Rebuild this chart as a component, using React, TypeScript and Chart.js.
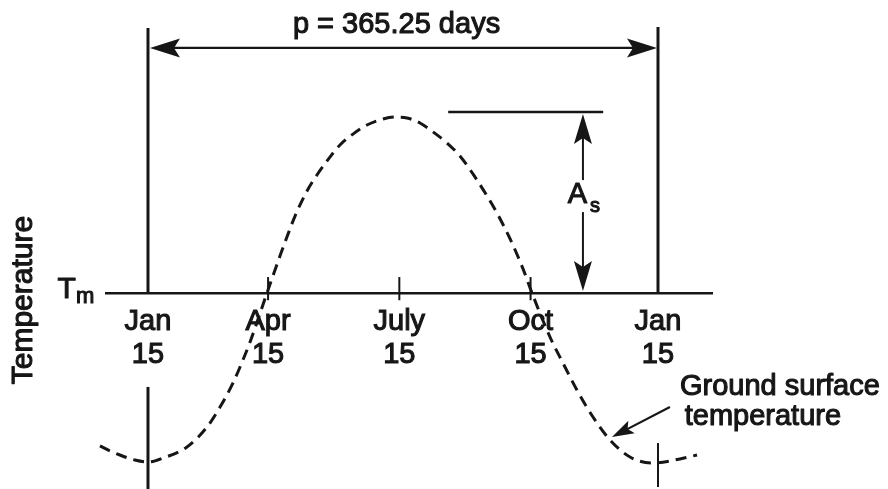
import React, { useEffect, useRef } from 'react';
import Chart from 'chart.js/auto';

// Time axis: days counted from Jan 15
const periodDays = 365.25;
const tickDays = [0, 86, 180, 274, 365.25];
const tickLabels = [
  ['Jan', '15'],
  ['Apr', '15'],
  ['July', '15'],
  ['Oct', '15'],
  ['Jan', '15'],
];

// Temperature as departure from the mean Tm, in units of the surface amplitude As
const meanTemp = 0;
const amplitude = 1;

// Ground surface temperature curve
const curveDays = [
  -43.7, -34.4, -20.1, -9.3, 0, 10.7, 27.9, 42.3, 51.6, 60.9, 68.0, 73.1, 85.2, 90.2,
  94.5, 99.5, 105.3, 113.9, 121.0, 130.3, 137.5, 146.8, 156.8, 168.3, 176.9, 185.5,
  194.8, 204.1, 214.1, 223.4, 234.2, 242.8, 250.7, 260.7, 268.6, 275.0, 287.9, 297.2,
  307.2, 318.7, 330.9, 345.2, 361.7, 381.0, 393.2,
];
const curveTemps = [
  -0.801, -0.845, -0.895, -0.923, -0.934, -0.912, -0.851, -0.74, -0.63, -0.497, -0.37,
  -0.271, 0, 0.11, 0.204, 0.309, 0.425, 0.564, 0.652, 0.751, 0.818, 0.878, 0.928, 0.961,
  0.972, 0.967, 0.939, 0.89, 0.829, 0.757, 0.641, 0.536, 0.431, 0.276, 0.133, 0, -0.243,
  -0.387, -0.536, -0.685, -0.812, -0.906, -0.939, -0.917, -0.895,
];

const INK = '#161616';
const FONT = '"Liberation Sans", Arial, Helvetica, sans-serif';
const TEXT_STROKE = 1.1;

function arrowHead(ctx: CanvasRenderingContext2D, tx: number, ty: number, angle: number, len: number, half: number) {
  ctx.save();
  ctx.translate(tx, ty);
  ctx.rotate(angle);
  ctx.beginPath();
  ctx.moveTo(0, 0);
  ctx.lineTo(-len, -half);
  ctx.lineTo(-len * 0.8, 0);
  ctx.lineTo(-len, half);
  ctx.closePath();
  ctx.fill();
  ctx.restore();
}

function line(ctx: CanvasRenderingContext2D, x1: number, y1: number, x2: number, y2: number, w: number) {
  ctx.lineWidth = w;
  ctx.beginPath();
  ctx.moveTo(x1, y1);
  ctx.lineTo(x2, y2);
  ctx.stroke();
}

function text(ctx: CanvasRenderingContext2D, s: string, x: number, y: number) {
  ctx.lineWidth = TEXT_STROKE;
  ctx.lineJoin = 'round';
  ctx.strokeText(s, x, y);
  ctx.fillText(s, x, y);
}

// Reference lines, arrows and labels drawn in data coordinates
const diagramPlugin = {
  id: 'diagram',
  afterDraw(chart: any) {
    const { ctx } = chart;
    const X = (d: number) => chart.scales.x.getPixelForValue(d);
    const Y = (t: number) => chart.scales.y.getPixelForValue(t);
    ctx.save();
    ctx.strokeStyle = INK;
    ctx.fillStyle = INK;
    ctx.lineCap = 'butt';

    const x0 = X(0);
    const x1 = X(periodDays);

    // boundary verticals at Jan 15
    line(ctx, x0, Y(1.464), x0, Y(meanTemp), 3);
    line(ctx, x1, Y(1.47), x1, Y(meanTemp), 3);
    line(ctx, x0, Y(-0.519), x0, Y(-1.1), 3);
    line(ctx, x1, Y(-0.829), x1, Y(-1.072), 2);

    // period arrow
    const py = Y(1.354);
    line(ctx, x0 + 10, py, x1 - 10, py, 2.2);
    arrowHead(ctx, x0 + 2, py, Math.PI, 30, 9.5);
    arrowHead(ctx, x1 - 1, py, 0, 30, 9.5);
    ctx.font = `29px ${FONT}`;
    ctx.textAlign = 'center';
    ctx.textBaseline = 'alphabetic';
    text(ctx, 'p = 365.25 days', X(178), Y(1.436));

    // small ticks on the Tm line
    for (let i = 1; i < tickDays.length - 1; i++) {
      line(ctx, X(tickDays[i]), Y(0.088), X(tickDays[i]), Y(-0.04), 2);
    }

    // amplitude marker
    line(ctx, X(215), Y(amplitude), X(326), Y(amplitude), 2.4);
    const ax = X(311.5);
    line(ctx, ax, Y(amplitude) + 20, ax, Y(0.624), 2);
    line(ctx, ax, Y(0.447), ax, Y(meanTemp) - 20, 2);
    arrowHead(ctx, ax, Y(amplitude) + 2, -Math.PI / 2, 30, 9);
    arrowHead(ctx, ax, Y(meanTemp) - 2, Math.PI / 2, 30, 9);
    ctx.textAlign = 'left';
    ctx.font = `29px ${FONT}`;
    text(ctx, 'A', X(300.6), Y(0.497));
    ctx.font = `20px ${FONT}`;
    text(ctx, 's', X(316.5), Y(0.45));

    // Tm label
    ctx.font = `30px ${FONT}`;
    text(ctx, 'T', X(-64.8), Y(-0.028));
    ctx.font = `22px ${FONT}`;
    text(ctx, 'm', X(-51.5), Y(-0.057));

    // vertical axis title
    ctx.save();
    ctx.translate(X(-88.8), Y(-0.039));
    ctx.rotate(-Math.PI / 2);
    ctx.font = `30px ${FONT}`;
    ctx.textAlign = 'center';
    ctx.textBaseline = 'middle';
    text(ctx, 'Temperature', 0, 0);
    ctx.restore();

    // curve callout
    ctx.font = `29px ${FONT}`;
    ctx.textAlign = 'left';
    text(ctx, 'Ground surface', X(381), Y(-0.564));
    text(ctx, 'temperature', X(384.4), Y(-0.729));
    const sx = X(373.8), sy = Y(-0.63);
    const tx = X(332.3), ty = Y(-0.796);
    const ang = Math.atan2(ty - sy, tx - sx);
    line(ctx, sx, sy, tx - Math.cos(ang) * 14, ty - Math.sin(ang) * 14, 2.2);
    arrowHead(ctx, tx, ty, ang, 22, 7);

    ctx.restore();
  },
};

export default function App() {
  const ref = useRef<HTMLCanvasElement>(null);

  useEffect(() => {
    const chart = new Chart(ref.current as HTMLCanvasElement, {
      type: 'line',
      data: {
        datasets: [
          {
            label: 'Ground surface temperature',
            data: curveDays.map((d, i) => ({ x: d, y: curveTemps[i] })),
            borderColor: INK,
            borderWidth: 3,
            borderDash: [11, 7],
            pointRadius: 0,
            cubicInterpolationMode: 'monotone',
            fill: false,
            clip: false as any,
          },
        ],
      },
      options: {
        responsive: false,
        animation: false,
        devicePixelRatio: 1,
        layout: { padding: { left: 106.1, right: 175.9, top: 21.5, bottom: 15 } },
        plugins: { legend: { display: false }, tooltip: { enabled: false } },
        scales: {
          x: {
            type: 'linear',
            min: -30,
            max: 404,
            position: { y: meanTemp } as any,
            grid: { display: false, drawTicks: false },
            border: { display: true, color: INK, width: 2.6 },
            afterBuildTicks: (scale: any) => {
              scale.ticks = tickDays.map((v) => ({ value: v }));
            },
            ticks: {
              autoSkip: false,
              maxRotation: 0,
              minRotation: 0,
              padding: 12,
              color: INK,
              textStrokeColor: INK,
              textStrokeWidth: TEXT_STROKE,
              font: { family: FONT, size: 29, lineHeight: 1.14 },
              callback: (_v: any, i: number) => tickLabels[i],
            },
          },
          y: { type: 'linear', min: -1, max: 1.5, display: false },
        },
      },
      plugins: [diagramPlugin],
    });
    return () => chart.destroy();
  }, []);

  return (
    <div style={{ position: 'fixed', left: 0, top: 0, width: 888, height: 489, background: '#fff' }}>
      <canvas ref={ref} width={888} height={489} style={{ display: 'block', width: 888, height: 489 }} />
    </div>
  );
}
